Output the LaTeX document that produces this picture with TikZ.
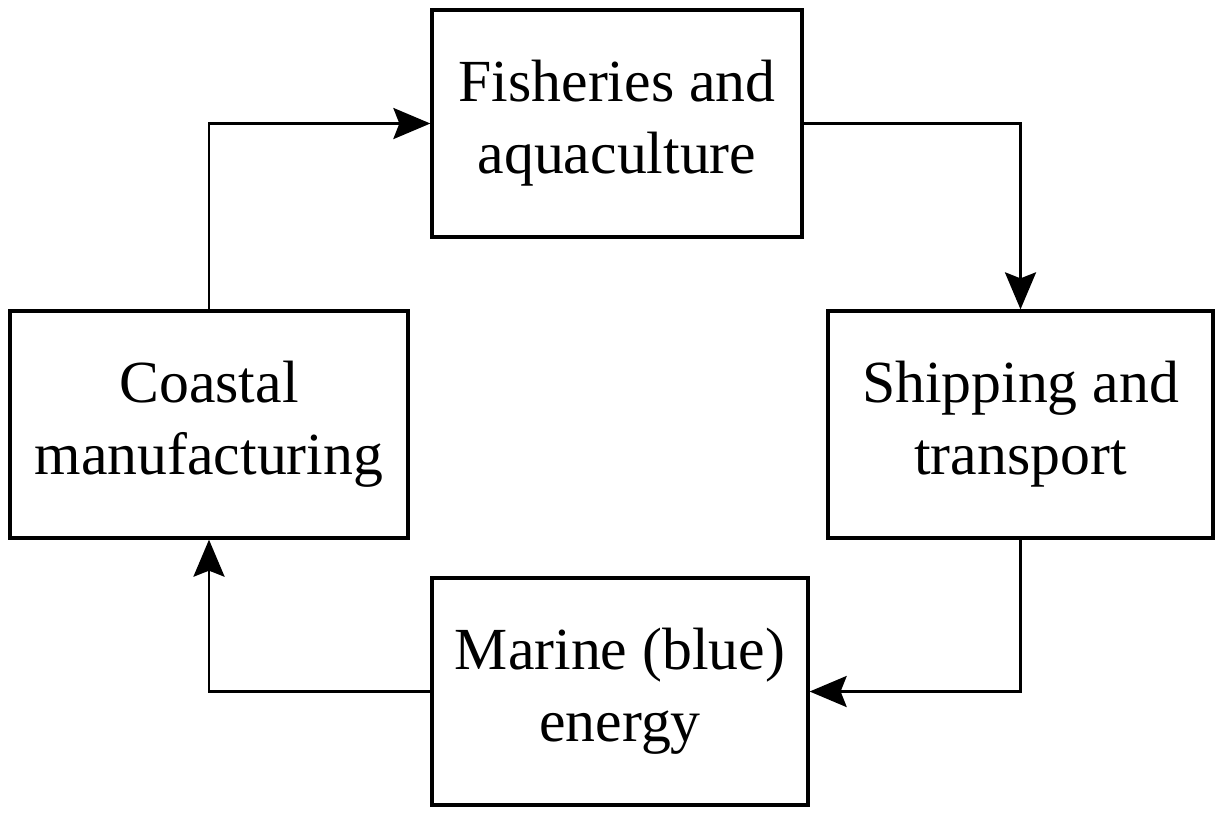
\documentclass[tikz,border=0pt]{standalone}
\usepackage{fontspec}
\setmainfont{Liberation Serif}
\usetikzlibrary{arrows.meta}
\tikzset{
  sector/.style={draw, line width=1.9pt, minimum height=4.54cm, align=center,
    font=\fontsize{34}{41}\selectfont, inner sep=0pt},
  flow/.style={line width=1.7pt, -{Stealth[length=0.74cm, width=0.62cm, inset=0.12cm]}}
}
\begin{document}
\begin{tikzpicture}[x=0.02cm, y=-0.02cm]
    \useasboundingbox (0, 0) rectangle (1223, 816);
    \node [sector, minimum width=7.4cm] (fish) at (617, 123.5) {Fisheries and\\aquaculture};
    \node [sector, minimum width=7.7cm] (ship) at (1020.5, 424.5) {Shipping and\\transport};
    \node [sector, minimum width=7.96cm] (coast) at (209, 424.5) {Coastal\\manufacturing};
    \node [sector, minimum width=7.52cm] (energy) at (620, 691.5) {Marine (blue)\\energy};
    \draw [flow] (coast.north) |- (fish.west);
    \draw [flow] (fish.east) -| (ship.north);
    \draw [flow] (ship.south) |- (energy.east);
    \draw [flow] (energy.west) -| (coast.south);
  \end{tikzpicture}
\end{document}
